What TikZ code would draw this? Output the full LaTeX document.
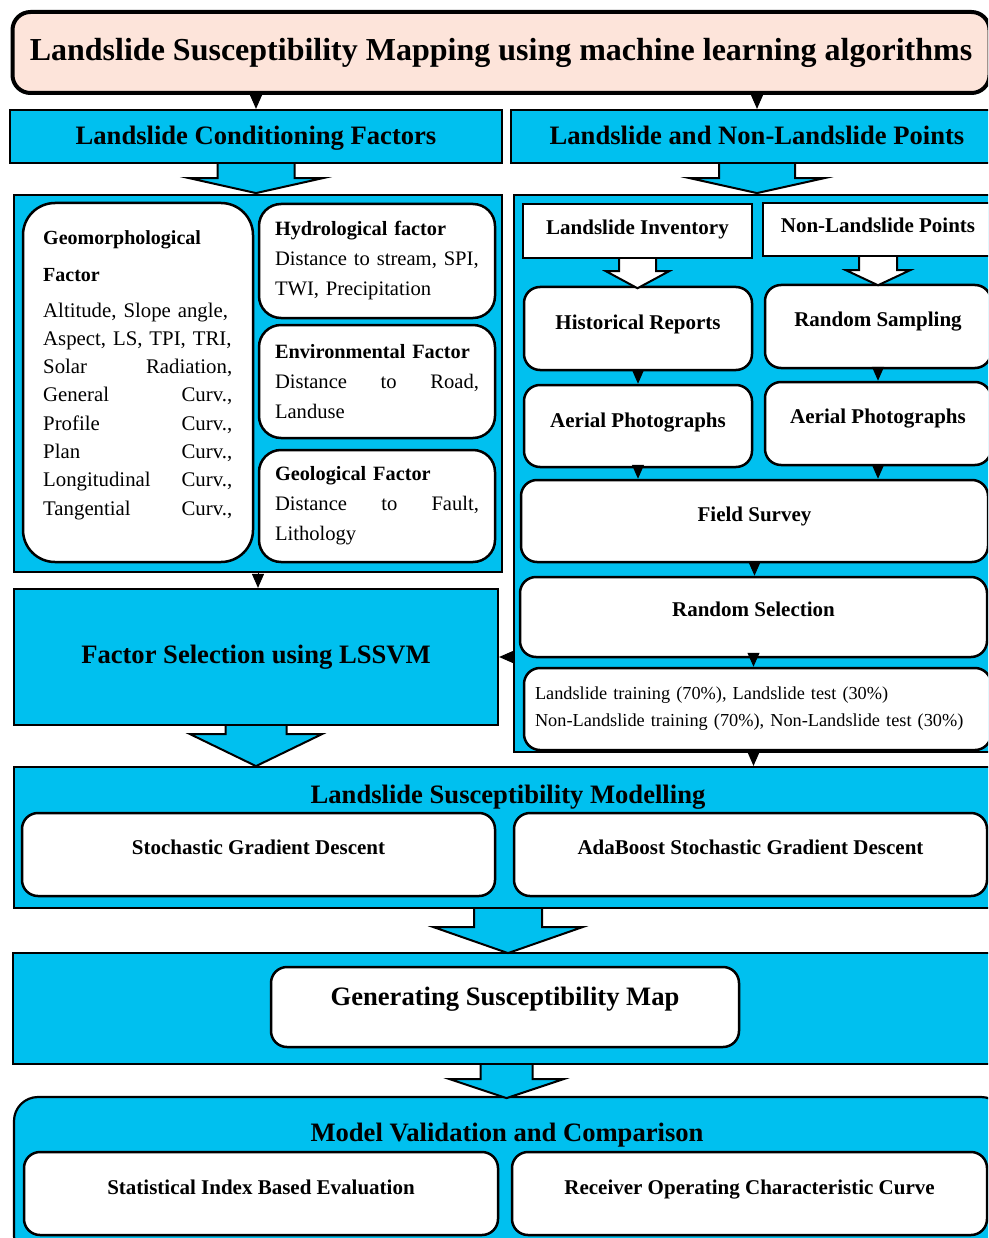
\documentclass[tikz,border=0pt]{standalone}
\usepackage{fontspec}
\setmainfont{Liberation Serif}
\usepackage{xcolor}
\usepackage{tikz}
\usetikzlibrary{calc}
\usetikzlibrary{arrows.meta}
\usetikzlibrary{positioning}

\definecolor{lsblue}{HTML}{00C0EF}
\definecolor{lspeach}{HTML}{FDE4DA}

\tikzset{
  panel/.style={rectangle, draw=black, line width=2.2pt, fill=lsblue, inner sep=0pt},
  wbox/.style={rectangle, rounded corners=16pt, draw=black, line width=2.5pt, fill=white, inner sep=0pt},
  sqbox/.style={rectangle, draw=black, line width=2.5pt, fill=white, inner sep=0pt},
  head/.style={font=\bfseries\fontsize{26.6}{30}\selectfont, text height=18.6pt, text depth=6.5pt},
  lbl/.style={font=\bfseries\fontsize{21}{25}\selectfont, text height=14.7pt, text depth=5pt},
  body/.style={font=\fontsize{20.6}{30}\selectfont, text width=204pt, align=left},
  lift/.style={text depth=#1},
  tri/.style={-{Triangle[length=14pt,width=12pt]}, line width=1pt},
}

% hollow block arrow: start, half shaft, half head, shaft length, head length, fill
\newcommand{\blkarrow}[6]{%
  \draw [line width=2pt, fill=#6] ($(#1)+(-#2,0)$) -- ++(0,#4) -- ++({#2-#3},0)
    -- ($(#1)+(0,{#4+#5})$) -- ($(#1)+(#3,#4)$) -- ++({#2-#3},0) -- ($(#1)+(#2,0)$);
}

\begin{document}
\begin{tikzpicture}[x=1pt, y=-1pt]
\useasboundingbox (0,0) rectangle (988,1238);
\clip (0,0) rectangle (988,1238);

% title
\node [rectangle, rounded corners=18pt, draw=black, line width=4pt, fill=lspeach, inner sep=0pt,
  minimum width=977pt, minimum height=81pt, font=\bfseries\fontsize{32}{36}\selectfont,
  text height=22.4pt, lift=6.3pt] (title) at (501,52.5)
  {Landslide Susceptibility Mapping using machine learning algorithms};

\node [panel, head, lift=2pt, minimum width=492pt, minimum height=53pt] (lcf) at (256,136.5) {Landslide Conditioning Factors};
\node [panel, head, lift=2pt, minimum width=492pt, minimum height=53pt] (lnp) at (757,136.5) {Landslide and Non-Landslide Points};

% conditioning factors
\node [panel, minimum width=488pt, minimum height=377pt] (lpanel) at (258,383.5) {};
\node [wbox, rounded corners=32pt, minimum width=230pt, minimum height=359pt] (geomorph) at (138,382.5) {};
\node [body, text width=189pt, inner sep=0pt, anchor=north west, font=\fontsize{20.8}{28.3}\selectfont] (geomorphtxt) at (43,230)
  {\textbf{\fontsize{20}{28.3}\selectfont Geomorphological}\\[8.7pt]
   \textbf{\fontsize{20}{28.3}\selectfont Factor}\\[7.7pt]
   Altitude, Slope angle,\\ Aspect, LS, TPI, TRI,\\ Solar\hfill Radiation,\\
   General\hfill Curv.,\\ Profile\hfill Curv.,\\ Plan\hfill Curv.,\\
   Longitudinal\hfill Curv.,\\ Tangential\hfill Curv.,};
\node [wbox, rounded corners=22pt, body, minimum width=236pt, minimum height=114pt] (hydro) at (377,261)
  {\textbf{\fontsize{20.3}{30}\selectfont Hydrological factor}\\ Distance to stream, SPI,\\ TWI, Precipitation};
\node [wbox, rounded corners=22pt, body, minimum width=236pt, minimum height=113pt] (env) at (377,381.5)
  {\textbf{\fontsize{20.3}{30}\selectfont Environmental Factor}\\ Distance\hfill to\hfill Road,\\ Landuse};
\node [wbox, rounded corners=22pt, body, minimum width=236pt, minimum height=112pt] (geo) at (377,506)
  {\textbf{\fontsize{20.3}{30}\selectfont Geological Factor}\\ Distance\hfill to\hfill Fault,\\ Lithology};

% landslide points
\node [panel, minimum width=489pt, minimum height=557pt] (rpanel) at (758.5,473.5) {};
\node [sqbox, lbl, lift=6.8pt, minimum width=229pt, minimum height=54pt] (li) at (637.5,231) {Landslide Inventory};
\node [sqbox, lbl, lift=7.8pt, minimum width=230pt, minimum height=53pt] (nlp) at (878,229.5) {Non-Landslide Points};
\node [wbox, lbl, lift=11.8pt, minimum width=228pt, minimum height=83pt] (hr) at (638,328.5) {Historical Reports};
\node [wbox, lbl, lift=13.8pt, minimum width=226pt, minimum height=83pt] (rs) at (878,326.5) {Random Sampling};
\node [wbox, lbl, lift=10.8pt, minimum width=228pt, minimum height=82pt] (ap1) at (638,426) {Aerial Photographs};
\node [wbox, lbl, lift=13.8pt, minimum width=226pt, minimum height=83pt] (ap2) at (878,423.5) {Aerial Photographs};
\node [wbox, lbl, lift=12.8pt, minimum width=467pt, minimum height=82pt] (field) at (754.5,521) {Field Survey};
\node [wbox, lbl, lift=14.8pt, minimum width=467pt, minimum height=80pt] (rsel) at (753.5,617) {Random Selection};
\node [wbox, minimum width=467pt, minimum height=82pt, text width=445pt, align=left,
  font=\fontsize{18.3}{27}\selectfont] (stats) at (757.5,709)
  {Landslide training (70\%), Landslide test (30\%)\\ Non-Landslide training (70\%), Non-Landslide test (30\%)};

\node [panel, head, lift=5pt, minimum width=484pt, minimum height=136pt] (facsel) at (256,657) {Factor Selection using LSSVM};

% modelling
\node [panel, minimum width=988pt, minimum height=141pt] (model) at (508,837.5) {};
\node [head] (modeltitle) at (508,797) {Landslide Susceptibility Modelling};
\node [wbox, lbl, lift=13.8pt, minimum width=473pt, minimum height=83pt] (sgd) at (258.5,854.5) {Stochastic Gradient Descent};
\node [wbox, lbl, lift=13.8pt, minimum width=473pt, minimum height=83pt] (asgd) at (750.5,854.5) {AdaBoost Stochastic Gradient Descent};

% map
\node [panel, minimum width=987pt, minimum height=111pt] (gen) at (506.5,1008.5) {};
\node [wbox, head, lift=21pt, minimum width=468pt, minimum height=80pt] (gsm) at (505,1007) {Generating Susceptibility Map};

% validation
\node [panel, rounded corners=24pt, minimum width=991pt, minimum height=163pt] (val) at (509.5,1178.5) {};
\node [head] (valtitle) at (507,1135) {Model Validation and Comparison};
\node [wbox, lbl, lift=11.8pt, minimum width=474pt, minimum height=83pt] (sibe) at (261,1193.5) {Statistical Index Based Evaluation};
\node [wbox, lbl, lift=11.8pt, minimum width=475pt, minimum height=83pt] (roc) at (749.5,1193.5) {Receiver Operating Characteristic Curve};

% block arrows
\blkarrow{lcf.south}{38.5}{67}{14}{15}{lsblue}
\blkarrow{lnp.south}{38}{67.5}{14}{15}{lsblue}
\blkarrow{li.south}{18.5}{31.5}{12}{17}{white}
\blkarrow{nlp.south}{19}{32}{13}{15}{white}
\blkarrow{facsel.south}{30.5}{66}{8}{32}{lsblue}
\blkarrow{model.south}{34}{74.5}{18}{26}{lsblue}
\blkarrow{gen.south}{26}{57}{14}{19}{lsblue}

% small arrows
\draw [tri] (title.south -| lcf.north) -- (lcf.north);
\draw [tri] (title.south -| lnp.north) -- (lnp.north);
\draw [tri] (lpanel.south) -- (lpanel.south |- facsel.north);
\draw [tri] (hr.south) -- (ap1.north);
\draw [tri] (rs.south) -- (ap2.north);
\draw [tri] (ap1.south) -- (ap1.south |- field.north);
\draw [tri] (ap2.south) -- (ap2.south |- field.north);
\draw [tri] (field.south) -- (field.south |- rsel.north);
\draw [tri] (rsel.south) -- (rsel.south |- stats.north);
\draw [tri] (rpanel.west |- facsel.east) -- (facsel.east);
\draw [tri] (rsel.south |- rpanel.south) -- (rsel.south |- model.north);
\end{tikzpicture}
\end{document}
